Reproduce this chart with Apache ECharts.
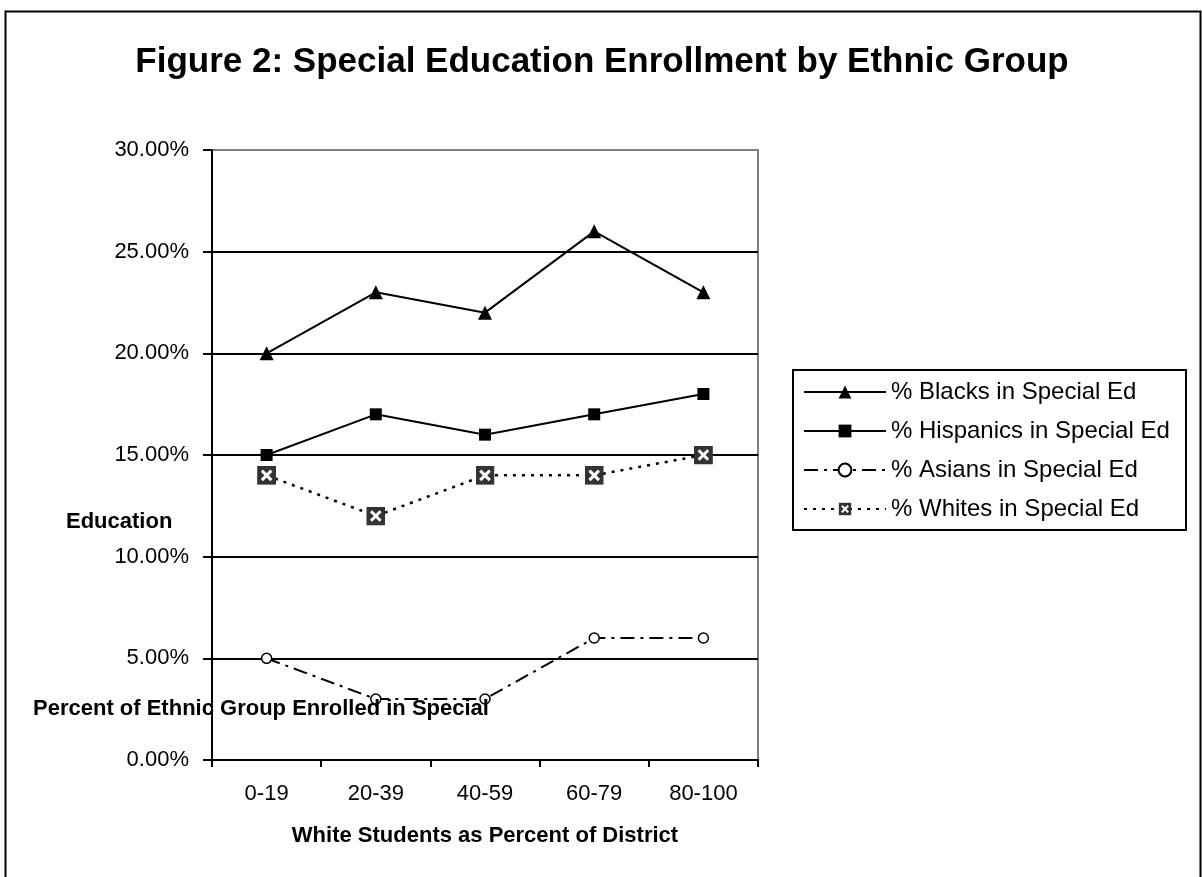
<!DOCTYPE html>
<html>
<head>
<meta charset="utf-8">
<script src="https://cdn.jsdelivr.net/npm/echarts@6/dist/echarts.min.js"></script>
<style>
html,body{margin:0;padding:0;background:#fff;}
#chart{width:1202px;height:877px;}
</style>
</head>
<body>
<div id="chart"></div>
<script>
const categories = ['0-19', '20-39', '40-59', '60-79', '80-100'];
const blacks = [20, 23, 22, 26, 23];
const hispanics = [15, 17, 16, 17, 18];
const asians = [5, 3, 3, 6, 6];
const whites = [14, 12, 14, 14, 15];
const seriesNames = ['% Blacks in Special Ed', '% Hispanics in Special Ed', '% Asians in Special Ed', '% Whites in Special Ed'];
const titleText = 'Figure 2: Special Education Enrollment by Ethnic Group';
const xName = 'White Students as Percent of District';
const yNameLine1 = 'Percent of Ethnic Group Enrolled in Special';
const yNameLine2 = 'Education';

const FONT = '"Liberation Sans", Arial, sans-serif';
const whiteSvg = "<svg xmlns='http://www.w3.org/2000/svg' width='20' height='20'><rect width='20' height='20' fill='#333333'/><path d='M5 5L15 15M15 5L5 15' stroke='#ffffff' stroke-width='3.2'/></svg>";
const whiteSymbol = 'image://data:image/svg+xml;charset=utf-8,' + encodeURIComponent(whiteSvg);

const chart = echarts.init(document.getElementById('chart'), null, {renderer: 'canvas'});
const option = {
  animation: false,
  backgroundColor: '#ffffff',
  textStyle: {fontFamily: FONT, color: '#000'},
  grid: {left: 212, right: 444, top: 150, bottom: 117, show: true, borderColor: '#808080', borderWidth: 2, backgroundColor: 'transparent'},
  legend: {
    orient: 'vertical', left: 793, top: 370,
    itemWidth: 82, itemHeight: 16, itemGap: 15, padding: [10, 10],
    textStyle: {fontSize: 24, color: '#000', fontFamily: FONT},
    data: seriesNames
  },
  xAxis: {
    type: 'category', data: categories, boundaryGap: true,
    axisLine: {show: true, lineStyle: {color: '#000', width: 2}},
    axisTick: {show: true, length: 7, lineStyle: {color: '#000', width: 2}},
    axisLabel: {fontSize: 22, color: '#000', margin: 23, fontFamily: FONT},
    name: xName, nameLocation: 'middle', nameGap: 65,
    nameTextStyle: {fontSize: 22, fontWeight: 'bold', color: '#000', fontFamily: FONT},
    splitLine: {show: false}
  },
  yAxis: {
    type: 'value', min: 0, max: 30, interval: 5,
    axisLine: {show: true, lineStyle: {color: '#000', width: 2}},
    axisTick: {show: true, length: 9, lineStyle: {color: '#000', width: 2}},
    axisLabel: {fontSize: 22, color: '#000', margin: 23, fontFamily: FONT,
      formatter: v => v.toFixed(2) + '%'},
    splitLine: {show: true, showMaxLine: false, lineStyle: {color: '#000', width: 2}}
  },
  series: [
    {name: seriesNames[0], type: 'line', data: blacks, symbol: 'triangle', symbolSize: 14,
     lineStyle: {color: '#000', width: 2}, itemStyle: {color: '#000'}, z: 5},
    {name: seriesNames[1], type: 'line', data: hispanics, symbol: 'rect', symbolSize: 12,
     lineStyle: {color: '#000', width: 2}, itemStyle: {color: '#000'}, z: 5},
    {name: seriesNames[2], type: 'line', data: asians, symbol: 'circle', symbolSize: 10,
     lineStyle: {color: '#000', width: 2, type: [14, 6, 3, 6]},
     itemStyle: {color: '#fff', borderColor: '#000', borderWidth: 1.5}, z: 5},
    {name: seriesNames[3], type: 'line', data: whites, symbol: whiteSymbol, symbolSize: 19,
     lineStyle: {color: '#000', width: 2.5, type: [3, 6]}, itemStyle: {color: '#333'}, z: 5}
  ],
  graphic: [
    {type: 'rect', left: 3, top: 9, shape: {x: 0, y: 0, width: 1195, height: 900},
     style: {fill: 'none', stroke: '#000', lineWidth: 2}, silent: true, z: -1},
    {type: 'rect', shape: {x: 793, y: 370, width: 393, height: 160},
     style: {fill: 'none', stroke: '#000', lineWidth: 2}, silent: true},
    {type: 'text', x: 602, y: 62,
     style: {text: titleText, fontSize: 35, fontWeight: 'bold', fontFamily: FONT, fill: '#000', align: 'center', verticalAlign: 'middle'}},
    {type: 'text', x: 33, y: 709,
     style: {text: yNameLine1, fontSize: 22, fontWeight: 'bold', fontFamily: FONT, fill: '#000', align: 'left', verticalAlign: 'middle'}, z: 10},
    {type: 'text', x: 66, y: 522,
     style: {text: yNameLine2, fontSize: 22, fontWeight: 'bold', fontFamily: FONT, fill: '#000', align: 'left', verticalAlign: 'middle'}, z: 10}
  ]
};
chart.setOption(option);
</script>
</body>
</html>
